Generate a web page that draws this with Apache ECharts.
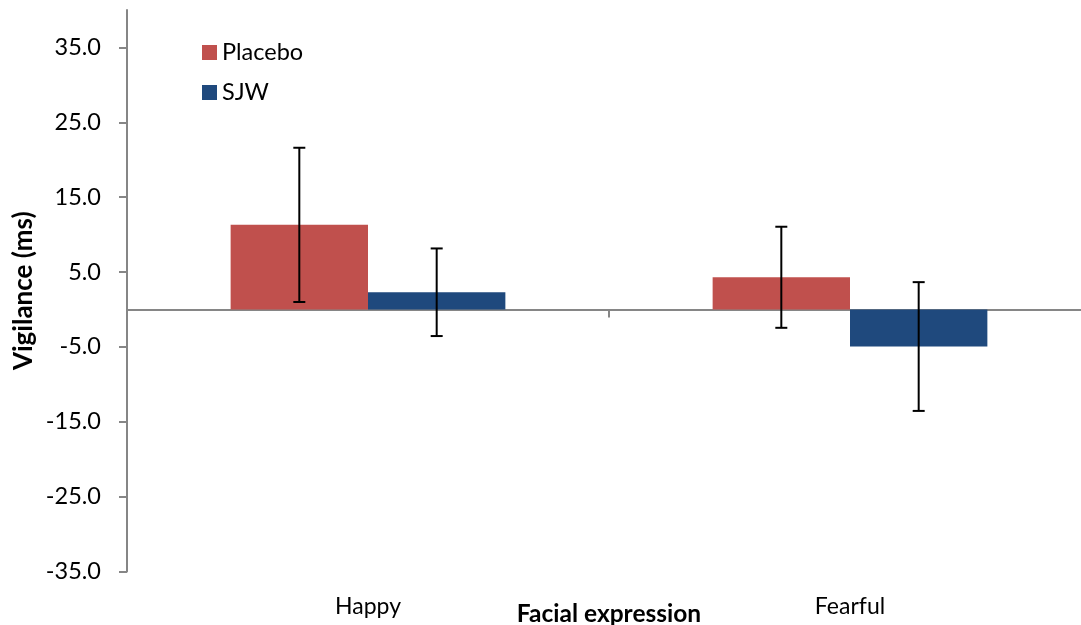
<!DOCTYPE html>
<html>
<head>
<meta charset="utf-8">
<script src="https://cdn.jsdelivr.net/npm/echarts@6/dist/echarts.min.js"></script>
<style>
  html, body { margin: 0; padding: 0; background: #fff; }
  #chart { width: 1081px; height: 625px; }
</style>
</head>
<body>
<div id="chart"></div>
<script>
// ---- Data ----
const categories = ['Happy', 'Fearful'];
const seriesNames = ['Placebo', 'SJW'];
const placeboValues = [11.3, 4.3];
const sjwValues = [2.3, -4.95];
const placeboErrors = [10.3, 6.75];
const sjwErrors = [5.85, 8.6];
const yTickValues = [-35, -25, -15, -5, 5, 15, 25, 35];

// ---- Styling ----
const FONT = 'Lato';
const AXIS_COLOR = '#868686';
const COLORS = ['#C0504D', '#1F497D'];
const BAR_CATEGORY_GAP = 0.43;

function errorData(values, errors, side) {
  return values.map((v, i) => [i, v - errors[i], v + errors[i], side]);
}
const errorBars = errorData(placeboValues, placeboErrors, -1)
  .concat(errorData(sjwValues, sjwErrors, 1));

const chart = echarts.init(document.getElementById('chart'), null, { renderer: 'canvas' });

const option = {
  animation: false,
  backgroundColor: '#ffffff',
  textStyle: { fontFamily: FONT },
  legend: {
    orient: 'vertical',
    left: 197,
    top: 35.5,
    itemWidth: 15,
    itemHeight: 15,
    itemGap: 16,
    icon: 'rect',
    data: seriesNames,
    textStyle: { fontFamily: FONT, fontSize: 23.5, color: '#000', lineHeight: 23 }
  },
  grid: { left: 127, top: 10, width: 964, bottom: 53.5, containLabel: false, outerBoundsMode: 'none' },
  xAxis: [
    {
      type: 'category',
      data: categories,
      axisLine: { onZero: true, lineStyle: { color: AXIS_COLOR, width: 2 } },
      axisTick: { show: true, length: 8, lineStyle: { color: AXIS_COLOR, width: 2 } },
      axisLabel: { show: false },
      splitLine: { show: false }
    },
    {
      type: 'category',
      data: categories,
      position: 'bottom',
      axisLine: { show: false, onZero: false },
      axisTick: { show: false },
      axisLabel: { show: true, margin: 24, fontFamily: FONT, fontSize: 23, color: '#000' },
      splitLine: { show: false },
      name: 'Facial expression',
      nameLocation: 'middle',
      nameGap: 30,
      nameMoveOverlap: false,
      nameTextStyle: { fontFamily: FONT, fontSize: 24.5, fontWeight: 'bold', color: '#000' }
    }
  ],
  yAxis: {
    type: 'value',
    min: -35,
    max: 40,
    interval: 10,
    axisLine: { show: true, onZero: false, lineStyle: { color: AXIS_COLOR, width: 2 } },
    axisTick: { show: true, length: 8, customValues: yTickValues, lineStyle: { color: AXIS_COLOR, width: 2 } },
    axisLabel: {
      show: true,
      customValues: yTickValues,
      margin: 26,
      fontFamily: FONT,
      fontSize: 23.5,
      color: '#000',
      formatter: v => Number(v).toFixed(1)
    },
    splitLine: { show: false },
    name: 'Vigilance (ms)',
    nameLocation: 'middle',
    nameGap: 90,
    nameMoveOverlap: false,
    nameTextStyle: { fontFamily: FONT, fontSize: 26, fontWeight: 'bold', color: '#000' }
  },
  series: [
    {
      name: seriesNames[0],
      type: 'bar',
      data: placeboValues,
      itemStyle: { color: COLORS[0] },
      barGap: '0%',
      barCategoryGap: (BAR_CATEGORY_GAP * 100) + '%'
    },
    {
      name: seriesNames[1],
      type: 'bar',
      data: sjwValues,
      itemStyle: { color: COLORS[1] },
      barGap: '0%',
      barCategoryGap: (BAR_CATEGORY_GAP * 100) + '%'
    },
    {
      type: 'custom',
      name: 'errors',
      z: 5,
      silent: true,
      data: errorBars,
      encode: { x: 0, y: [1, 2] },
      renderItem: function (params, api) {
        const ci = api.value(0);
        const lo = api.value(1);
        const hi = api.value(2);
        const side = api.value(3);
        const band = api.size([1, 0])[0];
        const off = side * band * (1 - BAR_CATEGORY_GAP) / 4;
        const pTop = api.coord([ci, hi]);
        const pBot = api.coord([ci, lo]);
        const x = pTop[0] + off;
        const cap = 6;
        const style = { stroke: '#000', lineWidth: 2 };
        return {
          type: 'group',
          children: [
            { type: 'line', shape: { x1: x, y1: pTop[1], x2: x, y2: pBot[1] }, style: style },
            { type: 'line', shape: { x1: x - cap, y1: pTop[1], x2: x + cap, y2: pTop[1] }, style: style },
            { type: 'line', shape: { x1: x - cap, y1: pBot[1], x2: x + cap, y2: pBot[1] }, style: style }
          ]
        };
      }
    }
  ]
};

chart.setOption(option);
</script>
</body>
</html>
